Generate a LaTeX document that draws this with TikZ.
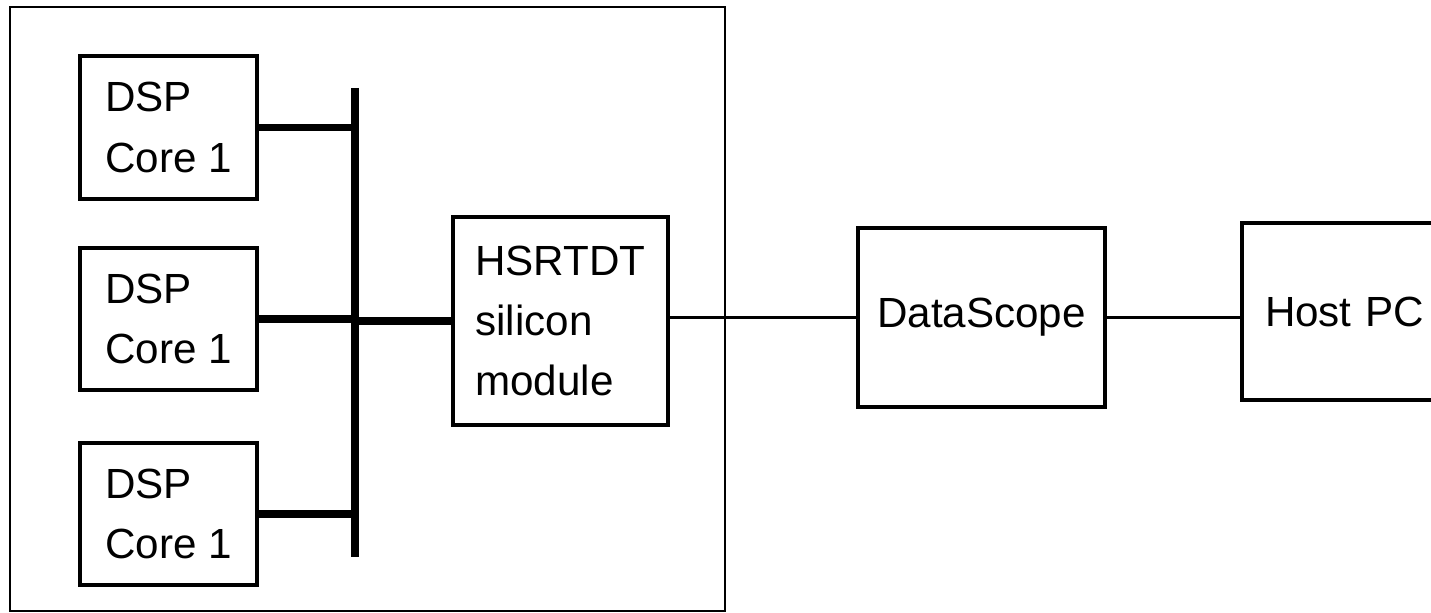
\documentclass[tikz,border=0pt]{standalone}
\usepackage{fontspec}
\setmainfont{Liberation Sans}
\definecolor{c1}{HTML}{000000}

\begin{document}
\begin{tikzpicture}[
    every node/.style={font=\fontsize{12}{17.2}\selectfont, text=c1},
    frame/.style={draw=c1, line width=0.6pt},
    unit/.style={rectangle, draw=c1, line width=1.1pt, inner sep=0pt,
                 align=left},
    bus/.style={draw=c1, line width=2.5pt},
    stub/.style={draw=c1, line width=2.1pt},
    wire/.style={draw=c1, line width=0.9pt},
]
\path[use as bounding box] (0, 0) rectangle (14.31, 6.13);
\clip (0, 0) rectangle (14.31, 6.13);

% ---------------- chip
\draw[frame] (0.10, 6.06) rectangle (7.25, 0.02);

\node[unit, minimum width=1.77cm, minimum height=1.43cm]
    (dspa) at (1.685, 4.855) {DSP\\Core 1};
\node[unit, minimum width=1.77cm, minimum height=1.42cm]
    (dspb) at (1.685, 2.94) {DSP\\Core 1};
\node[unit, minimum width=1.77cm, minimum height=1.42cm]
    (dspc) at (1.685, 0.99) {DSP\\Core 1};

\coordinate (bustop) at (3.55, 5.25);
\coordinate (busbot) at (3.55, 0.56);
\draw[bus] (bustop) -- (busbot);

\node[unit, minimum width=2.15cm, minimum height=2.08cm]
    (hsr) at (5.605, 2.92) {HSRTDT\\silicon\\module};

\foreach \n in {dspa, dspb, dspc}{
    \draw[stub] (\n.east) -- (\n.east -| bustop);
}
\draw[stub] (hsr.west -| bustop) -- (hsr.west);

% ---------------- outside the chip
\node[unit, minimum width=2.47cm, minimum height=1.79cm, align=center]
    (scope) at (9.815, 2.955) {DataScope};
\node[unit, minimum width=2.20cm, minimum height=1.77cm, text width=1.74cm]
    (host) at (13.52, 3.015) {Host PC};

\draw[wire] (hsr.east |- scope.west) -- (scope.west);
\draw[wire] (scope.east) -- (scope.east -| host.west);
\end{tikzpicture}
\end{document}
